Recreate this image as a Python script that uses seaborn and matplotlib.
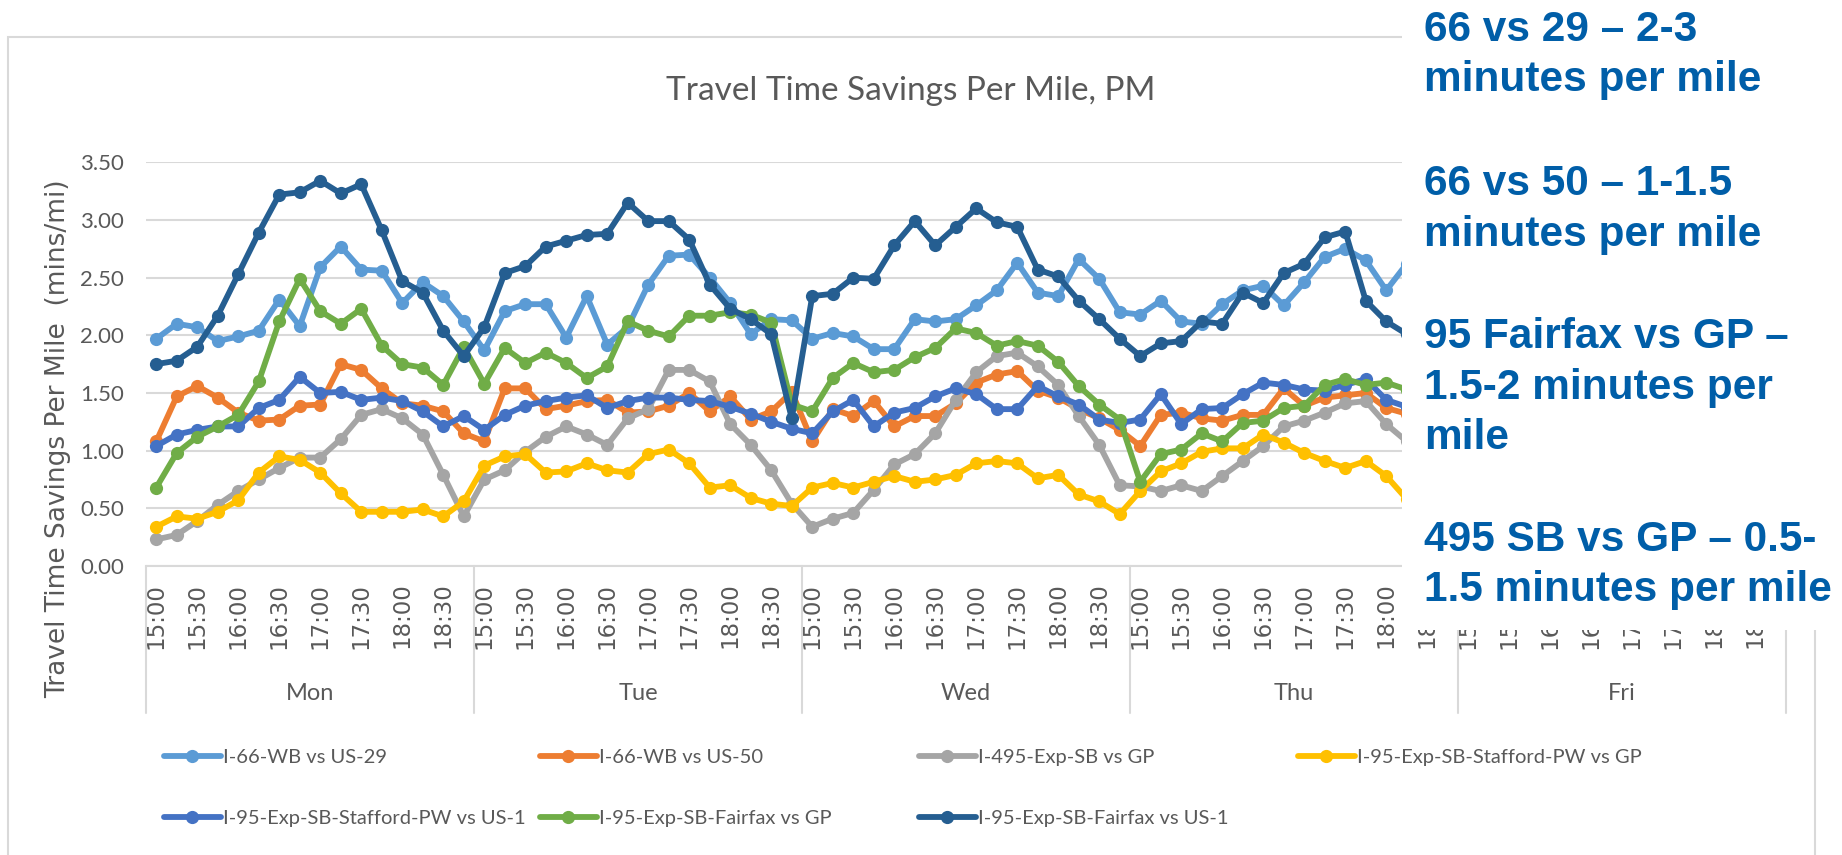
import matplotlib
matplotlib.use("Agg")
import matplotlib.pyplot as plt
import numpy as np
import pandas as pd
import seaborn as sns
from matplotlib.lines import Line2D
from matplotlib.patches import Rectangle

# --- data (mins/mi, 15-minute slots 15:00-18:45 per day) ---
days = ["Mon", "Tue", "Wed", "Thu", "Fri"]
slot_times = ["15:00", "15:15", "15:30", "15:45", "16:00", "16:15", "16:30", "16:45",
              "17:00", "17:15", "17:30", "17:45", "18:00", "18:15", "18:30", "18:45"]

series_names = [
    "I-66-WB vs US-29",
    "I-66-WB vs US-50",
    "I-495-Exp-SB vs GP",
    "I-95-Exp-SB-Stafford-PW vs GP",
    "I-95-Exp-SB-Stafford-PW vs US-1",
    "I-95-Exp-SB-Fairfax vs GP",
    "I-95-Exp-SB-Fairfax vs US-1",
]
series_colors = ["#5B9BD5", "#ED7D31", "#A5A5A5", "#FFC000", "#4472C4", "#70AD47", "#255E91"]

# Mon..Thu 18:15 are visible, the rest is hidden behind the text box
i66_us29 = [1.97, 2.10, 2.07, 1.95, 1.99, 2.04, 2.31, 2.08, 2.59, 2.77, 2.57, 2.56, 2.28, 2.46, 2.34, 2.12,
            1.87, 2.21, 2.27, 2.27, 1.98, 2.34, 1.92, 2.07, 2.44, 2.69, 2.70, 2.50, 2.28, 2.01, 2.14, 2.13,
            1.97, 2.02, 1.99, 1.88, 1.88, 2.14, 2.12, 2.14, 2.26, 2.39, 2.63, 2.37, 2.34, 2.66, 2.49, 2.20,
            2.18, 2.30, 2.12, 2.10, 2.27, 2.39, 2.43, 2.26, 2.46, 2.68, 2.75, 2.65, 2.39, 2.62]
i66_us50 = [1.08, 1.47, 1.56, 1.46, 1.33, 1.26, 1.27, 1.39, 1.40, 1.75, 1.70, 1.54, 1.41, 1.39, 1.34, 1.15,
            1.08, 1.54, 1.54, 1.36, 1.39, 1.43, 1.44, 1.33, 1.34, 1.39, 1.50, 1.34, 1.47, 1.27, 1.34, 1.51,
            1.08, 1.36, 1.30, 1.43, 1.21, 1.30, 1.30, 1.41, 1.59, 1.66, 1.69, 1.52, 1.46, 1.36, 1.28, 1.18,
            1.04, 1.31, 1.33, 1.28, 1.26, 1.31, 1.31, 1.54, 1.39, 1.46, 1.48, 1.50, 1.37, 1.32]
i495_gp = [0.23, 0.27, 0.39, 0.53, 0.65, 0.75, 0.85, 0.94, 0.94, 1.10, 1.31, 1.36, 1.28, 1.14, 0.79, 0.43,
           0.75, 0.83, 0.99, 1.12, 1.21, 1.14, 1.05, 1.28, 1.36, 1.70, 1.70, 1.60, 1.23, 1.05, 0.83, 0.54,
           0.34, 0.41, 0.46, 0.66, 0.88, 0.97, 1.15, 1.44, 1.68, 1.82, 1.85, 1.73, 1.57, 1.30, 1.05, 0.70,
           0.69, 0.65, 0.70, 0.65, 0.78, 0.91, 1.04, 1.21, 1.26, 1.33, 1.41, 1.43, 1.23, 1.08]
stafford_gp = [0.34, 0.43, 0.41, 0.47, 0.57, 0.81, 0.95, 0.92, 0.81, 0.63, 0.47, 0.47, 0.47, 0.49, 0.43, 0.56,
               0.87, 0.95, 0.97, 0.81, 0.82, 0.89, 0.83, 0.81, 0.97, 1.01, 0.89, 0.68, 0.70, 0.59, 0.54, 0.52,
               0.68, 0.72, 0.68, 0.73, 0.78, 0.73, 0.75, 0.79, 0.89, 0.91, 0.89, 0.76, 0.79, 0.62, 0.56, 0.45,
               0.65, 0.82, 0.89, 0.99, 1.02, 1.02, 1.14, 1.07, 0.98, 0.91, 0.85, 0.91, 0.78, 0.58]
stafford_us1 = [1.04, 1.14, 1.18, 1.21, 1.21, 1.37, 1.44, 1.64, 1.50, 1.51, 1.44, 1.46, 1.43, 1.34, 1.21, 1.30,
                1.18, 1.31, 1.39, 1.43, 1.46, 1.48, 1.37, 1.43, 1.46, 1.46, 1.44, 1.43, 1.38, 1.32, 1.25, 1.19,
                1.15, 1.34, 1.44, 1.21, 1.33, 1.37, 1.47, 1.54, 1.49, 1.36, 1.36, 1.56, 1.47, 1.40, 1.27, 1.24,
                1.27, 1.49, 1.23, 1.36, 1.37, 1.49, 1.59, 1.57, 1.53, 1.52, 1.57, 1.62, 1.44, 1.38]
fairfax_gp = [0.68, 0.98, 1.12, 1.21, 1.31, 1.60, 2.12, 2.49, 2.21, 2.10, 2.23, 1.91, 1.75, 1.72, 1.57, 1.90,
              1.58, 1.89, 1.76, 1.85, 1.76, 1.63, 1.73, 2.12, 2.04, 1.99, 2.17, 2.17, 2.20, 2.18, 2.11, 1.40,
              1.34, 1.63, 1.76, 1.68, 1.70, 1.81, 1.89, 2.06, 2.02, 1.91, 1.95, 1.91, 1.77, 1.56, 1.40, 1.27,
              0.73, 0.97, 1.01, 1.15, 1.08, 1.24, 1.26, 1.37, 1.39, 1.57, 1.62, 1.57, 1.59, 1.53]
fairfax_us1 = [1.75, 1.78, 1.90, 2.17, 2.53, 2.89, 3.22, 3.24, 3.34, 3.23, 3.31, 2.91, 2.47, 2.37, 2.04, 1.82,
               2.07, 2.54, 2.60, 2.77, 2.82, 2.87, 2.88, 3.15, 2.99, 2.99, 2.83, 2.44, 2.23, 2.14, 2.01, 1.28,
               2.34, 2.36, 2.50, 2.49, 2.78, 2.99, 2.78, 2.94, 3.10, 2.98, 2.94, 2.57, 2.51, 2.30, 2.14, 1.97,
               1.82, 1.93, 1.95, 2.12, 2.10, 2.37, 2.28, 2.54, 2.62, 2.85, 2.90, 2.30, 2.12, 2.01]

series_values = [i66_us29, i66_us50, i495_gp, stafford_gp, stafford_us1, fairfax_gp, fairfax_us1]

callout_paragraphs = [
    ["66 vs 29 – 2-3", "minutes per mile"],
    ["66 vs 50 – 1-1.5", "minutes per mile"],
    ["95 Fairfax vs GP –", "1.5-2 minutes per", "mile"],
    ["495 SB vs GP – 0.5-", "1.5 minutes per mile"],
]

# --- figure ---
W, H = 1842, 855
GREY_TXT = "#595959"
GRID = "#D9D9D9"
LW, MS = 4.2, 9.5

sns.set_style("white")
plt.rcParams["font.family"] = ["Lato", "DejaVu Sans"]

rows = []
for name, vals in zip(series_names, series_values):
    for i, v in enumerate(vals):
        rows.append({"slot": i, "series": name, "value": v})
df = pd.DataFrame(rows)

fig = plt.figure(figsize=(W / 100, H / 100), dpi=100)
ax = fig.add_axes([146 / W, 1 - 566 / H, (1786 - 146) / W, (566 - 162.3) / H])
ax.patch.set_alpha(0)

sns.lineplot(data=df, x="slot", y="value", hue="series", hue_order=series_names,
             palette=series_colors, marker="o", markersize=MS, markeredgewidth=0,
             linewidth=LW, legend=False, ax=ax, sort=False)

n_slots = len(days) * len(slot_times)
ax.set_xlim(-0.5, n_slots - 0.5)
ax.set_ylim(0, 3.5)
ax.set_yticks(np.arange(0, 3.51, 0.5))
ax.set_yticklabels([f"{v:.2f}" for v in np.arange(0, 3.51, 0.5)])
ax.set_xticks(range(0, n_slots, 2))
ax.set_xticklabels([slot_times[i % len(slot_times)] for i in range(0, n_slots, 2)],
                   rotation=90, family="DejaVu Sans", fontsize=16.5, color=GREY_TXT)
ax.tick_params(axis="x", length=0, pad=12)
ax.tick_params(axis="y", length=0, pad=16, labelsize=16, labelcolor=GREY_TXT)
ax.set_xlabel("")
ax.set_ylabel("")

ax.yaxis.grid(True, color=GRID, linewidth=1.5)
ax.set_axisbelow(True)
for s in ["top", "right", "left"]:
    ax.spines[s].set_visible(False)
ax.spines["bottom"].set_color(GRID)
ax.spines["bottom"].set_linewidth(1.5)

# two-level category axis: day names and separators
trans = ax.get_xaxis_transform()
for d, day in enumerate(days):
    center = d * len(slot_times) + (len(slot_times) - 1) / 2
    ax.text(center, -0.317, day, transform=trans, ha="center", va="center",
            fontsize=17, color=GREY_TXT)
for d in range(len(days) + 1):
    xb = d * len(slot_times) - 0.5
    ax.add_line(Line2D([xb, xb], [0, -0.364], transform=trans, color=GRID,
                       linewidth=1.5, clip_on=False))

fig.text(911 / W, 1 - 100 / H, "Travel Time Savings Per Mile, PM", ha="center",
         va="baseline", fontsize=24, color=GREY_TXT)
fig.text(58 / W, 1 - 439 / H, "Travel Time Savings Per Mile  (mins/mi)", rotation=90,
         ha="center", va="center", family="DejaVu Sans", fontsize=19, color=GREY_TXT)

# legend laid out like Excel: 4 columns, filled row by row
col_x = [164, 540, 919, 1298]
row_y = [757, 818]
for k, (name, color) in enumerate(zip(series_names, series_colors)):
    h = Line2D([], [], color=color, linewidth=LW, marker="o", markersize=MS, markeredgewidth=0)
    fig.legend(handles=[h], labels=[name], loc="center left",
               bbox_to_anchor=(col_x[k % 4] / W, 1 - row_y[k // 4] / H),
               frameon=False, borderpad=0, borderaxespad=0, handlelength=2.83,
               handletextpad=0.1, fontsize=14.5, labelcolor=GREY_TXT, numpoints=1)

# outer chart border
fig.add_artist(Rectangle((8 / W, -0.05), (1815 - 8) / W, 1.05 - 37 / H, transform=fig.transFigure,
                         fill=False, edgecolor=GRID, linewidth=1.5, zorder=-1))

# white callout box pasted over the right part of the chart
fig.add_artist(Rectangle((1402 / W, 1 - 630 / H), 1 - 1402 / W, 630 / H, transform=fig.transFigure,
                         facecolor="white", edgecolor="none", zorder=10))
para_start = [41, 195, 348, 551]
line_step = 50.5
for start, lines in zip(para_start, callout_paragraphs):
    for j, line in enumerate(lines):
        fig.text(1424 / W, 1 - (start + j * line_step) / H, line, ha="left", va="baseline",
                 family="Liberation Sans", weight="bold", fontsize=30.5, color="#005EA8", zorder=11)

fig.savefig("out.png", dpi=100)
